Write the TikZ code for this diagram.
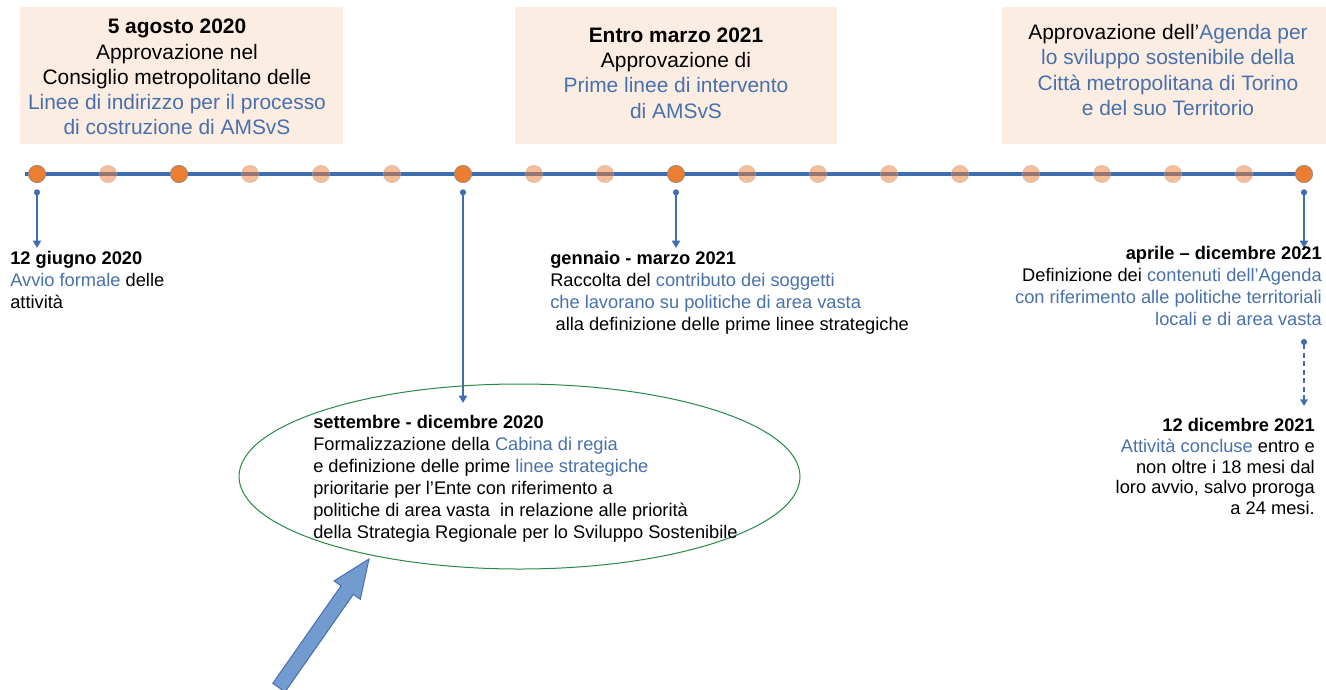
\documentclass[tikz,border=0pt]{standalone}
\usepackage{fontspec}
\setmainfont{Liberation Sans}
\usepackage{tikz}
\usepackage{xcolor}
\usetikzlibrary{arrows.meta,shapes.geometric}

\definecolor{tlblue}{RGB}{64,108,176}
\definecolor{txtblue}{RGB}{72,112,170}
\definecolor{peach}{RGB}{252,237,227}
\definecolor{dotorange}{RGB}{237,125,49}
\definecolor{ellgreen}{RGB}{38,138,68}
\definecolor{arrfill}{RGB}{114,155,208}
\definecolor{arredge}{RGB}{70,110,172}
\newcommand{\hl}[1]{\textcolor{txtblue}{#1}}

\begin{document}
\begin{tikzpicture}[x=0.75pt,y=0.75pt,yscale=-1,xscale=1,
  bigdot/.style={circle,draw=black!45,line width=0.5pt,fill=dotorange,minimum size=13pt,inner sep=0pt},
  fadedot/.style={circle,draw=black!30,draw opacity=0.5,line width=0.5pt,fill=dotorange,fill opacity=0.5,minimum size=13pt,inner sep=0pt},
  peachbox/.style={fill=peach,inner sep=0pt,minimum height=102.75pt},
  toptext/.style={align=center,inner sep=0pt,font=\fontsize{15.7}{18.9}\selectfont},
  lowtext/.style={inner sep=0pt,font=\fontsize{13.7}{16.5}\selectfont},
  conn/.style={tlblue,line width=1.5pt,{Circle[length=4.5pt]}-{Triangle[length=5.5pt,width=6pt]}},
  dotconn/.style={tlblue,line width=1.3pt,dash pattern=on 3.8pt off 2.6pt,{Circle[length=4.5pt]}-{Triangle[length=5pt,width=5.5pt]}},
  bigarrow/.style={fill=arrfill,draw=arredge,line width=0.75pt,line join=miter}]
\useasboundingbox (0,0) rectangle (1326,689);

%Shape: Rectangle [boxes]
\node[peachbox,minimum width=242.25pt] (box1) at (181.5,75.5) {};
\node[peachbox,minimum width=241.5pt] (box2) at (676,75.5) {};
\node[peachbox,minimum width=243pt] (box3) at (1164,75.5) {};

%Straight Lines [timeline]
\coordinate (tl-l) at (25,174);
\coordinate (tl-r) at (1308,174);
\draw[tlblue,line width=3pt] (tl-l) -- (tl-r);

%Shape: Circle
\node[bigdot] (d0) at (37,174) {};
\node[fadedot] (d1) at (108,174) {};
\node[bigdot] (d2) at (179,174) {};
\node[fadedot] (d3) at (250,174) {};
\node[fadedot] (d4) at (321,174) {};
\node[fadedot] (d5) at (392,174) {};
\node[bigdot] (d6) at (463,174) {};
\node[fadedot] (d7) at (534,174) {};
\node[fadedot] (d8) at (605,174) {};
\node[bigdot] (d9) at (676,174) {};
\node[fadedot] (d10) at (747,174) {};
\node[fadedot] (d11) at (818,174) {};
\node[fadedot] (d12) at (889,174) {};
\node[fadedot] (d13) at (960,174) {};
\node[fadedot] (d14) at (1031,174) {};
\node[fadedot] (d15) at (1102,174) {};
\node[fadedot] (d16) at (1173,174) {};
\node[fadedot] (d17) at (1244,174) {};
\node[bigdot] (d18) at (1304,174) {};

%Straight Lines [connectors]
\coordinate (e0) at (37,248);
\coordinate (e6) at (463,403);
\coordinate (e9) at (676,248);
\coordinate (e18) at (1304,248);
\draw[conn] ([yshift=11.5pt]d0.center) -- (e0);
\draw[conn] ([yshift=11.5pt]d6.center) -- (e6);
\draw[conn] ([yshift=11.5pt]d9.center) -- (e9);
\draw[conn] ([yshift=11.5pt]d18.center) -- (e18);
%Straight Lines [dotted]
\coordinate (f0) at (1304,339);
\coordinate (f1) at (1304,406);
\draw[dotconn] (f0) -- (f1);

%Shape: Ellipse
\node[ellipse,draw=ellgreen,line width=0.75pt,minimum width=420.75pt,minimum height=138.75pt,inner sep=0pt] (ell) at (519.5,476.5) {};

%Shape: Right Arrow
\draw[bigarrow] (369,559) -- (360.3,599.3) -- (353.3,594.4) -- (285,691.9) -- (272.8,683.3) -- (341.1,585.8) -- (334.1,580.9) -- cycle;

% Text Node
\node[toptext] (top1) at (177,77) {\textbf{5 agosto 2020}\\Approvazione nel\\Consiglio metropolitano delle\\\hl{Linee di indirizzo per il processo}\\\hl{di costruzione di AMSvS}};
% Text Node
\node[toptext] (top2) at (676,73) {\textbf{Entro marzo 2021}\\Approvazione di\\\hl{Prime linee di intervento}\\\hl{di AMSvS}};
% Text Node
\node[toptext] (top3) at (1168,70) {Approvazione dell’\hl{Agenda per}\\\hl{lo sviluppo sostenibile della}\\\hl{Città metropolitana di Torino}\\\hl{e del suo Territorio}};

% Text Node
\node[lowtext,align=left,anchor=north west] (low1) at (10,251) {\textbf{12 giugno 2020}\\\hl{Avvio formale} delle\\attività};
% Text Node
\node[lowtext,align=left,anchor=north west] (low2) at (550,251) {\textbf{gennaio - marzo 2021}\\Raccolta del \hl{contributo dei soggetti}\\\hl{che lavorano su politiche di area vasta}\\\hspace*{4pt}alla definizione delle prime linee strategiche};
% Text Node
\node[lowtext,align=right,anchor=north east] (low3) at (1322,246) {\textbf{aprile – dicembre 2021}\\Definizione dei \hl{contenuti dell’Agenda}\\\hl{con riferimento alle politiche territoriali}\\\hl{locali e di area vasta}};
% Text Node
\node[lowtext,align=right,anchor=north east,font=\fontsize{13.7}{15.6}\selectfont] (low4) at (1315,418) {\textbf{12 dicembre 2021}\\\hl{Attività concluse} entro e\\non oltre i 18 mesi dal\\loro avvio, salvo proroga\\a 24 mesi.};
% Text Node
\node[lowtext,align=left,anchor=north west] (low5) at (313,415) {\textbf{settembre - dicembre 2020}\\Formalizzazione della \hl{Cabina di regia}\\e definizione delle prime \hl{linee strategiche}\\prioritarie per l’Ente con riferimento a\\politiche di area vasta\ \ in relazione alle priorità\\della Strategia Regionale per lo Sviluppo Sostenibile};

\end{tikzpicture}
\end{document}
